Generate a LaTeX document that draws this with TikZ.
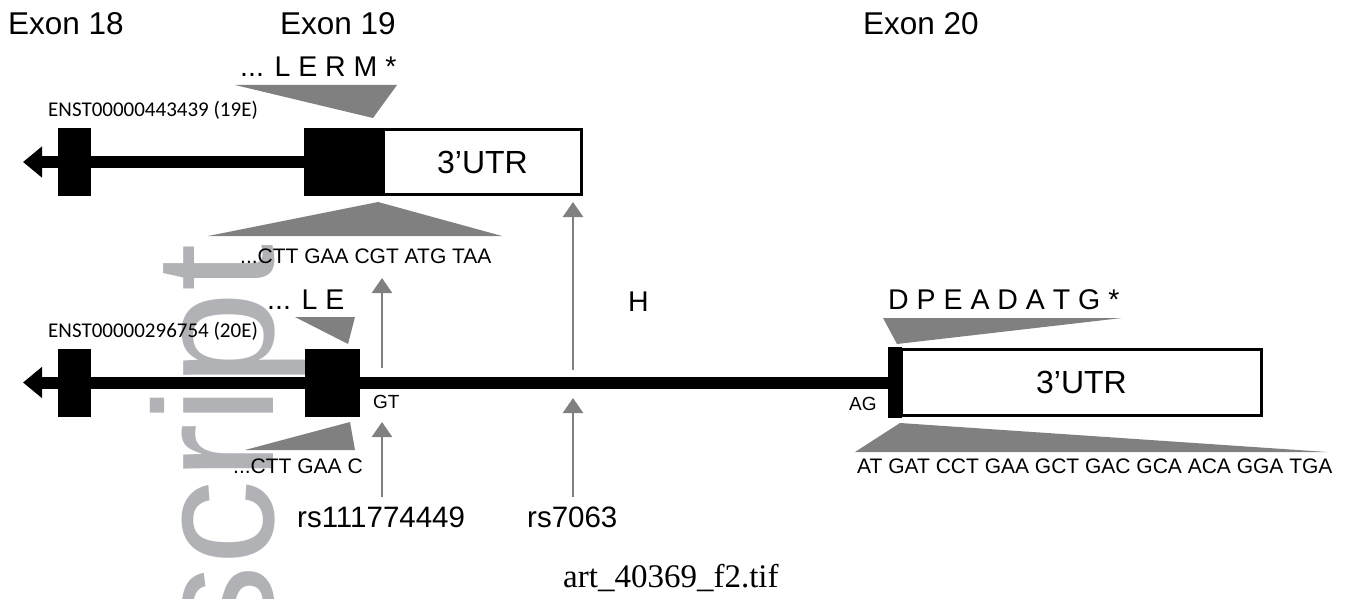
\documentclass[tikz,border=0pt]{standalone}
\usepackage{fontspec}
\setmainfont{Liberation Sans}
\newfontfamily\calib{Carlito}
\newfontfamily\serifx{Liberation Serif}
\usetikzlibrary{arrows.meta}
\definecolor{trigray}{RGB}{128,128,128}
\definecolor{wmark}{RGB}{176,178,182}
\tikzset{
  blk/.style={fill=black, draw=none, inner sep=0pt},
  utr/.style={draw=black, line width=3pt, fill=white, inner sep=0pt, font=\fontsize{32}{32}\selectfont},
  tri/.style={fill=trigray},
  snp/.style={draw=trigray, line width=2.5pt, -{Triangle[width=20pt,length=15pt]}},
  intron/.style={line width=12pt},
  strand/.style={line width=12pt, -{Triangle[width=30pt,length=19pt]}},
  lbl/.style={inner sep=0pt, anchor=base west},
  exonlbl/.style={lbl, font=\fontsize{31.5}{31.5}\selectfont},
  enst/.style={lbl, font=\calib\fontsize{21}{21}\selectfont},
  aa/.style={lbl, font=\fontsize{28.5}{28.5}\selectfont},
  nt/.style={lbl, font=\fontsize{21}{21}\selectfont},
  site/.style={lbl, font=\fontsize{19}{19}\selectfont},
  rslbl/.style={lbl, font=\fontsize{29.5}{29.5}\selectfont},
  wm/.style={inner sep=0pt, text=wmark, font=\fontsize{170}{170}\selectfont},
}
\begin{document}
\begin{tikzpicture}[x=1pt,y=-1pt]
\useasboundingbox (0,0) rectangle (1352,599);
\fill[white] (0,0) rectangle (1352,599);

% watermark
\begin{scope}
\clip (0,0) rectangle (1352,599);
\node[wm, rotate=90, anchor=base west] (wmk) at (273,651) {script};
\end{scope}

% exon headings
\node[exonlbl] (x18) at (8,35) {Exon 18};
\node[exonlbl] (x19) at (280,35) {Exon 19};
\node[exonlbl] (x20) at (863,35) {Exon 20};

% ---------- transcript 19E ----------
\node[enst] (enA) at (48,117) {ENST00000443439 (19E)};
\node[aa] (aaA) at (240,77) {... L E R M *};
\fill[tri] (235,85) -- (397,85) -- (373,118) -- cycle;

\node[blk, minimum width=33pt, minimum height=68pt] (e18a) at (74.5,162) {};
\node[blk, minimum width=78pt, minimum height=68pt] (e19a) at (343,162) {};
\node[utr, minimum width=198pt, minimum height=65pt] (utrA) at (482.5,162) {3'UTR};
\coordinate (tipA) at (23,162);
\draw[intron] (e18a.east) -- (e19a.west);
\draw[strand] (e18a.west) -- (tipA);

\fill[tri] (378,202) -- (502,236) -- (208,236) -- cycle;
\node[nt] (ntA) at (240,263) {...CTT GAA CGT ATG TAA};

% ---------- transcript 20E ----------
\node[enst] (enB) at (48,337) {ENST00000296754 (20E)};
\node[aa] (aaB) at (267,309) {... L E};
\fill[tri] (295,317) -- (355,317) -- (348,344) -- cycle;

\node[blk, minimum width=33pt, minimum height=68pt] (e18b) at (74.5,382.5) {};
\node[blk, minimum width=55pt, minimum height=68pt] (e20b) at (332.5,382.5) {};
\node[blk, minimum width=14pt, minimum height=71pt] (e20c) at (895,382.5) {};
\node[utr, minimum width=360pt, minimum height=66pt] (utrB) at (1081.5,382.5) {3'UTR};
\coordinate (tipB) at (23,382.5);
\draw[intron] (e18b.east) -- (e20b.west);
\draw[intron] (e20b.east) -- (e20c.west);
\draw[strand] (e18b.west) -- (tipB);

\node[site] (gt) at (373,408) {GT};
\node[site] (ag) at (849,410) {AG};

\fill[tri] (350,422) -- (355,450) -- (245,450) -- cycle;
\node[nt] (ntB) at (233,473) {...CTT GAA C};

\node[aa] (hh) at (628,311) {H};
\node[aa] (aaC) at (888,309) {D P E A D A T G *};
\fill[tri] (883,318) -- (1122,318) -- (897,344) -- cycle;
\fill[tri] (900,423) -- (1327,452) -- (855,452) -- cycle;
\node[nt] (ntC) at (857,473) {AT GAT CCT GAA GCT GAC GCA ACA GGA TGA};

% ---------- SNP arrows ----------
\coordinate (rsAbot) at (382,497);
\coordinate (rsAtipLow) at (382,422);
\coordinate (rsAtop) at (382,368);
\coordinate (rsAtipUp) at (382,278);
\coordinate (rsBbot) at (573,497);
\coordinate (rsBtipLow) at (573,398);
\coordinate (rsBtop) at (573,370);
\coordinate (rsBtipUp) at (573,202);
\draw[snp] (rsAbot) -- (rsAtipLow);
\draw[snp] (rsAtop) -- (rsAtipUp);
\draw[snp] (rsBbot) -- (rsBtipLow);
\draw[snp] (rsBtop) -- (rsBtipUp);

\node[rslbl] (rsA) at (297,527) {rs111774449};
\node[rslbl] (rsB) at (527,527) {rs7063};

\node[lbl, font=\serifx\fontsize{33}{33}\selectfont] (cap) at (563,587) {art\_40369\_f2.tif};
\end{tikzpicture}
\end{document}
